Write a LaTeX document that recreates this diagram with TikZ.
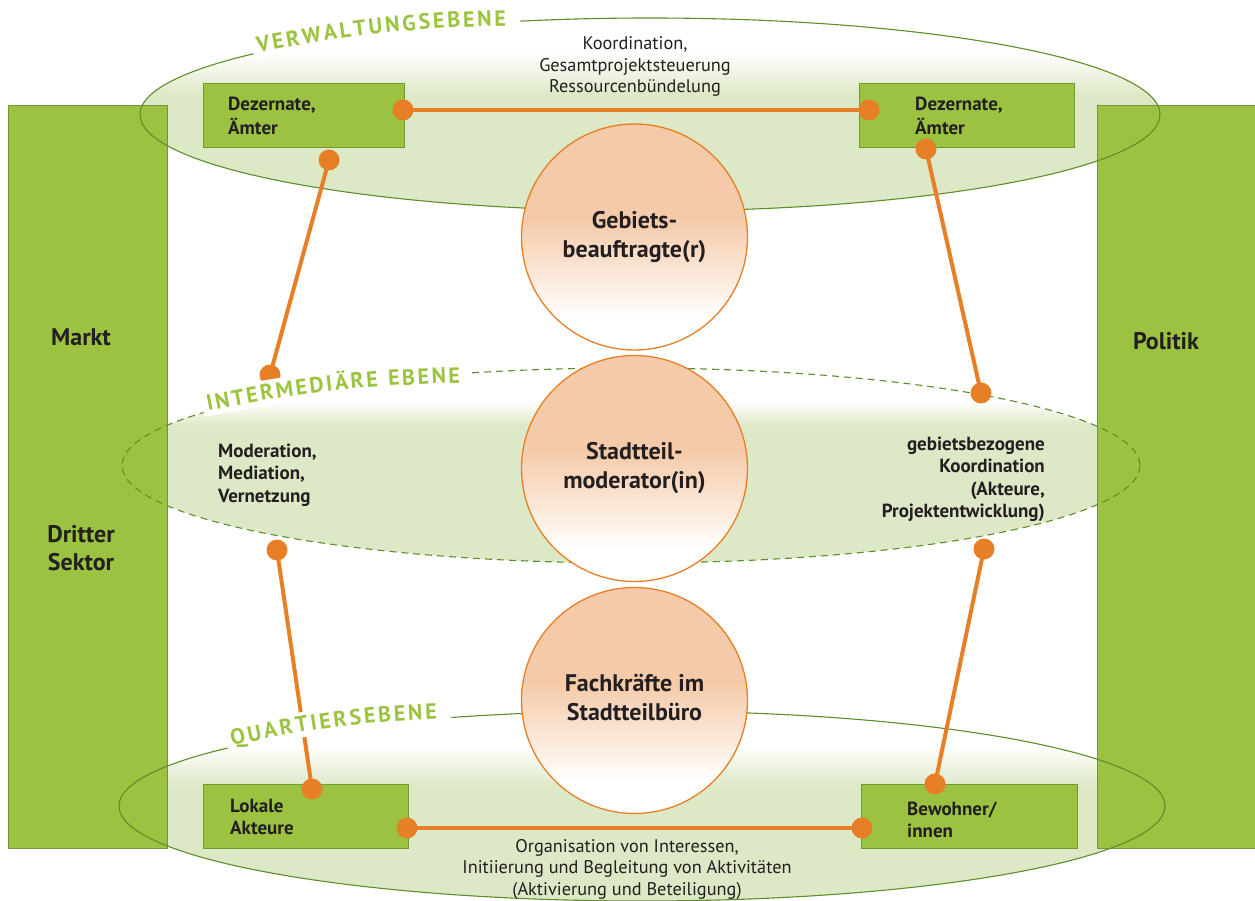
\documentclass[tikz,border=0pt]{standalone}
\usepackage{fontspec}
\setmainfont{PT Sans}
\usetikzlibrary{decorations.text}
\definecolor{boxgreen}{HTML}{9CC241}
\definecolor{boxedge}{HTML}{6F9A2E}
\definecolor{elledge}{HTML}{5E8E2A}
\definecolor{ellfill}{HTML}{DDE8C6}
\definecolor{lblgreen}{HTML}{9CC441}
\definecolor{orng}{HTML}{E67F25}
\definecolor{peach}{HTML}{F5CAA8}
\definecolor{txt}{HTML}{231F20}
\pgfdeclareverticalshading{ellshadeA}{100bp}{color(0bp)=(ellfill); color(55bp)=(ellfill); color(66bp)=(white); color(100bp)=(white)}
\pgfdeclareverticalshading{ellshadeB}{100bp}{color(0bp)=(ellfill); color(60bp)=(ellfill); color(66.5bp)=(white); color(100bp)=(white)}
\pgfdeclareverticalshading{circshade}{100bp}{color(0bp)=(white); color(32bp)=(white); color(54bp)=(peach); color(100bp)=(peach)}
\newfontfamily\lblfamily{PT Sans}
\newcommand\lblfmt{\lblfamily\bfseries\fontsize{22pt}{22pt}\selectfont}
\newcommand\mlines[2]{\begin{tabular}[t]{@{}#1@{}}#2\end{tabular}}
\tikzset{
  gbox/.style={fill=boxgreen, draw=boxedge, line width=1pt, inner sep=0pt},
  sidebox/.style={fill=boxgreen, draw=boxedge!80!gray, line width=0.8pt},
  ellline/.style={draw=elledge, line width=1.1pt},
  bigcirc/.style={circle, shading=circshade, draw=orng, line width=1.3pt, minimum size=226pt, inner sep=0pt, text=txt, font=\bfseries\fontsize{24pt}{29pt}\selectfont},
  dot/.style={circle, fill=orng, inner sep=0pt, minimum size=21pt},
  oline/.style={draw=orng, line width=4pt},
  lblbg/.style={draw=white, line width=25pt},
  boldtxt/.style={inner sep=0pt, text=txt, font=\bfseries\fontsize{19pt}{22.5pt}\selectfont},
  regtxt/.style={inner sep=0pt, text=txt, font=\fontsize{18.3pt}{21.5pt}\selectfont},
  bigtxt/.style={inner sep=0pt, text=txt, font=\bfseries\fontsize{24pt}{28pt}\selectfont},
  lbltext/.style={font=\lblfmt, decorate, decoration={text along path, text align=fit to path, text color=lblgreen, text={#1}}}
}
\begin{document}
\begin{tikzpicture}[x=1pt,y=-1pt]
\useasboundingbox (0,0) rectangle (1255,901);
% ellipse fills
\path[shading=ellshadeA] (650,114.5) ellipse [x radius=510, y radius=96.5];
\path[shading=ellshadeB] (631,465.5) ellipse [x radius=509, y radius=97.5];
\path[shading=ellshadeA] (642,806) ellipse [x radius=523, y radius=95];
% side columns
\path[sidebox] (8,105) rectangle (167,848);
\path[sidebox] (1097,105) rectangle (1255,848);
\node[bigtxt, anchor=base] (markt) at (81,345) {Markt};
\node[bigtxt, anchor=base] (dritter) at (81,542) {\mlines{c}{Dritter\\Sektor}};
\node[bigtxt, anchor=base] (politik) at (1166,349) {Politik};
% ellipse outlines
\draw[ellline] (650,114.5) ellipse [x radius=510, y radius=96.5];
\draw[ellline, dash pattern=on 7pt off 5pt] (631,465.5) ellipse [x radius=509, y radius=97.5];
\draw[ellline] (642,806) ellipse [x radius=523, y radius=95];
% circles
\node[bigcirc] (c1) at (634.5,237) {\mlines{c}{Gebiets-\\beauftragte(r)}};
\node[bigcirc] (c2) at (634.5,468.5) {\mlines{c}{Stadtteil-\\moderator(in)}};
\node[bigcirc] (c3) at (634.5,700.5) {\mlines{c}{Fachkr\"afte im\\Stadtteilb\"uro}};
% boxes
\node[gbox, minimum width=201pt, minimum height=64pt] (tl) at (303.5,116) {};
\node[gbox, minimum width=215pt, minimum height=64pt] (tr) at (966.5,116) {};
\node[gbox, minimum width=205pt, minimum height=64pt] (bl) at (305.5,816) {};
\node[gbox, minimum width=216pt, minimum height=64pt] (br) at (969,816) {};
\node[boldtxt, anchor=base west] (tlt) at (228,111) {\mlines{l}{Dezernate,\\\"Amter}};
\node[boldtxt, anchor=base west] (trt) at (915,111) {\mlines{l}{Dezernate,\\\"Amter}};
\node[boldtxt, anchor=base west] (blt) at (230,812) {\mlines{l}{Lokale\\Akteure}};
\node[boldtxt, anchor=base west] (brt) at (907,815) {\mlines{l}{Bewohner/\\innen}};
% orange connectors
\node[dot] (d1) at (403,110) {};
\node[dot] (d2) at (869,110) {};
\node[dot] (d3) at (329,160) {};
\node[dot] (d4) at (270,375) {};
\node[dot] (d5) at (926,149) {};
\node[dot] (d6) at (981,393) {};
\node[dot] (d7) at (277,550) {};
\node[dot] (d8) at (312,789) {};
\node[dot] (d9) at (984,549) {};
\node[dot] (d10) at (935,784) {};
\node[dot] (d11) at (407,828) {};
\node[dot] (d12) at (862,828) {};
\draw[oline] (d1.center) -- (d2.center);
\draw[oline] (d3.center) -- (d4.center);
\draw[oline] (d5.center) -- (d6.center);
\draw[oline] (d7.center) -- (d8.center);
\draw[oline] (d9.center) -- (d10.center);
\draw[oline] (d11.center) -- (d12.center);
% texts
\node[regtxt, anchor=base] (koord) at (635,50) {\mlines{c}{Koordination,\\Gesamtprojektsteuerung\\Ressourcenb\"undelung}};
\node[boldtxt, anchor=base west] (moder) at (218,457) {\mlines{l}{Moderation,\\Mediation,\\Vernetzung}};
\node[boldtxt, anchor=base east] (gebiet) at (1045,450) {\mlines{r}{gebietsbezogene\\Koordination\\(Akteure,\\Projektentwicklung)}};
\node[regtxt, anchor=base] (organ) at (627,852) {\mlines{c}{Organisation von Interessen,\\Initiierung und Begleitung von Aktivit\"aten\\(Aktivierung und Beteiligung)}};
% level labels
\coordinate (vs) at (258,53); \coordinate (ve) at (506,26);
\coordinate (is) at (208,411); \coordinate (ie) at (460,383);
\coordinate (qs) at (232,746); \coordinate (qe) at (437,719);
\draw[lblbg, shorten <=-6pt, shorten >=-14pt] ([yshift=7.5pt]vs) to[bend left=5] ([yshift=7.5pt]ve);
\draw[lblbg, shorten <=-6pt, shorten >=-12pt] ([yshift=7.5pt]is) to[bend left=5] ([yshift=7.5pt]ie);
\draw[lblbg, shorten <=-6pt, shorten >=-14pt] ([yshift=7.5pt]qs) to[bend left=5] ([yshift=7.5pt]qe);
\path[lbltext={|\lblfmt|VERWALTUNGSEBENE}] (vs) to[bend left=5] (ve);
\path[lbltext={|\lblfmt|INTERMEDIÄRE EBENE}] (is) to[bend left=5] (ie);
\path[lbltext={|\lblfmt|QUARTIERSEBENE}] (qs) to[bend left=5] (qe);
\end{tikzpicture}
\end{document}
